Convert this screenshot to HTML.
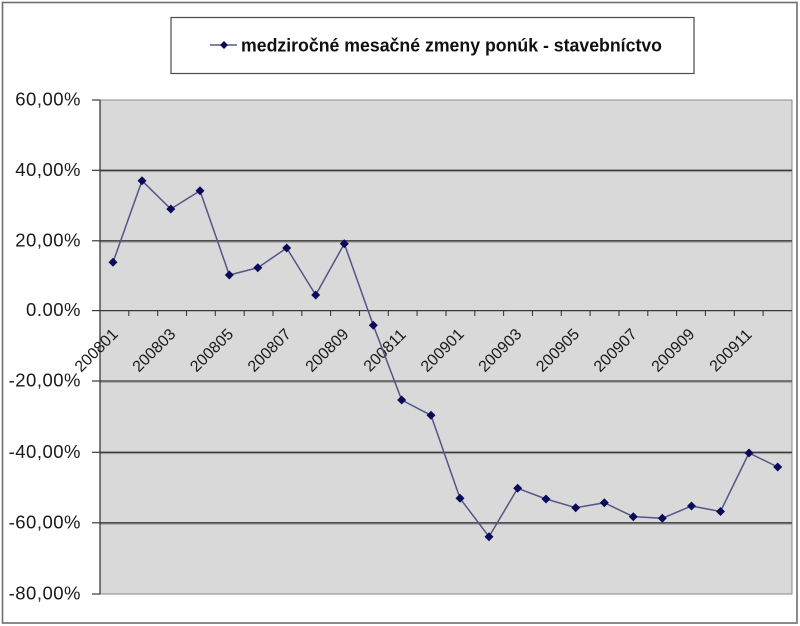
<!DOCTYPE html>
<html>
<head>
<meta charset="utf-8">
<style>
  html, body { margin: 0; padding: 0; background: #ffffff; }
  svg { display: block; }
  text { font-family: "Liberation Sans", Arial, sans-serif; }
</style>
</head>
<body>
<svg width="800" height="626" viewBox="0 0 800 626" xmlns="http://www.w3.org/2000/svg">
  <rect x="0" y="0" width="800" height="626" fill="#ffffff"/>
  <rect x="2.5" y="2.5" width="794.5" height="620.5" fill="#ffffff" stroke="#6e6e6e" stroke-width="1.6"/>

  <!-- legend -->
  <rect x="171" y="17.5" width="523" height="56" fill="#ffffff" stroke="#4a4a4a" stroke-width="1.2"/>
  <line x1="210" y1="45" x2="237" y2="45" stroke="#5a5a8c" stroke-width="1.5"/>
  <polygon points="224,41 228,45 224,49 220,45" fill="#0a0a5a"/>
  <text x="241" y="51.5" font-size="18" font-weight="bold" fill="#111" textLength="421" lengthAdjust="spacingAndGlyphs">medziročné mesačné zmeny ponúk - stavebníctvo</text>

  <!-- plot area -->
  <rect x="100" y="100" width="692" height="494" fill="#d9d9d9" stroke="#8a8a8a" stroke-width="1"/>

  <g stroke="#3a3a3a" stroke-width="1.3">
    <line x1="100" y1="170.3" x2="792" y2="170.3"/>
    <line x1="100" y1="240.8" x2="792" y2="240.8"/>
    <line x1="100" y1="381.0" x2="792" y2="381.0"/>
    <line x1="100" y1="452.3" x2="792" y2="452.3"/>
    <line x1="100" y1="522.8" x2="792" y2="522.8"/>
  </g>
  <g stroke="#9a9a9a" stroke-width="1">
    <line x1="100" y1="171.6" x2="792" y2="171.6"/>
    <line x1="100" y1="242.1" x2="792" y2="242.1"/>
    <line x1="100" y1="382.3" x2="792" y2="382.3"/>
    <line x1="100" y1="453.6" x2="792" y2="453.6"/>
    <line x1="100" y1="524.1" x2="792" y2="524.1"/>
  </g>
  <line x1="100" y1="100" x2="792" y2="100" stroke="#8a8a8a" stroke-width="1"/>
  <line x1="100" y1="594" x2="792" y2="594" stroke="#8a8a8a" stroke-width="1"/>

  <!-- y axis -->
  <line x1="100" y1="100" x2="100" y2="594" stroke="#3a3a3a" stroke-width="1.3"/>
  <g stroke="#3a3a3a" stroke-width="1.2">
    <line x1="92" y1="100" x2="100" y2="100"/>
    <line x1="92" y1="170.3" x2="100" y2="170.3"/>
    <line x1="92" y1="240.8" x2="100" y2="240.8"/>
    <line x1="92" y1="310.6" x2="100" y2="310.6"/>
    <line x1="92" y1="381.0" x2="100" y2="381.0"/>
    <line x1="92" y1="452.3" x2="100" y2="452.3"/>
    <line x1="92" y1="522.8" x2="100" y2="522.8"/>
    <line x1="92" y1="594" x2="100" y2="594"/>
  </g>

  <!-- x axis at 0 -->
  <line x1="100" y1="310.6" x2="792" y2="310.6" stroke="#3a3a3a" stroke-width="1.3"/>
  <g stroke="#3a3a3a" stroke-width="1.1">
    <line x1="128.8" y1="310.6" x2="128.8" y2="316"/>
    <line x1="157.7" y1="310.6" x2="157.7" y2="316"/>
    <line x1="186.5" y1="310.6" x2="186.5" y2="316"/>
    <line x1="215.3" y1="310.6" x2="215.3" y2="316"/>
    <line x1="244.2" y1="310.6" x2="244.2" y2="316"/>
    <line x1="273.0" y1="310.6" x2="273.0" y2="316"/>
    <line x1="301.8" y1="310.6" x2="301.8" y2="316"/>
    <line x1="330.6" y1="310.6" x2="330.6" y2="316"/>
    <line x1="359.5" y1="310.6" x2="359.5" y2="316"/>
    <line x1="388.3" y1="310.6" x2="388.3" y2="316"/>
    <line x1="417.1" y1="310.6" x2="417.1" y2="316"/>
    <line x1="446.0" y1="310.6" x2="446.0" y2="316"/>
    <line x1="474.8" y1="310.6" x2="474.8" y2="316"/>
    <line x1="503.6" y1="310.6" x2="503.6" y2="316"/>
    <line x1="532.5" y1="310.6" x2="532.5" y2="316"/>
    <line x1="561.3" y1="310.6" x2="561.3" y2="316"/>
    <line x1="590.1" y1="310.6" x2="590.1" y2="316"/>
    <line x1="619.0" y1="310.6" x2="619.0" y2="316"/>
    <line x1="647.8" y1="310.6" x2="647.8" y2="316"/>
    <line x1="676.6" y1="310.6" x2="676.6" y2="316"/>
    <line x1="705.4" y1="310.6" x2="705.4" y2="316"/>
    <line x1="734.3" y1="310.6" x2="734.3" y2="316"/>
    <line x1="763.1" y1="310.6" x2="763.1" y2="316"/>
  </g>

  <!-- y labels -->
  <g font-size="18.5" fill="#1a1a1a" text-anchor="end" letter-spacing="0.5">
    <text x="81" y="105.5">60,00%</text>
    <text x="81" y="175.8">40,00%</text>
    <text x="81" y="246.3">20,00%</text>
    <text x="81" y="316.1">0.00%</text>
    <text x="81" y="386.5">-20,00%</text>
    <text x="81" y="457.8">-40,00%</text>
    <text x="81" y="528.3">-60,00%</text>
    <text x="81" y="599.5">-80,00%</text>
  </g>

  <!-- x labels -->
  <g font-size="16" fill="#1a1a1a" text-anchor="middle">
    <text transform="translate(100,354) rotate(-45)">200801</text>
    <text transform="translate(157.7,354) rotate(-45)">200803</text>
    <text transform="translate(215.4,354) rotate(-45)">200805</text>
    <text transform="translate(273,354) rotate(-45)">200807</text>
    <text transform="translate(330.7,354) rotate(-45)">200809</text>
    <text transform="translate(388.4,354) rotate(-45)">200811</text>
    <text transform="translate(446,354) rotate(-45)">200901</text>
    <text transform="translate(503.7,354) rotate(-45)">200903</text>
    <text transform="translate(561.4,354) rotate(-45)">200905</text>
    <text transform="translate(619,354) rotate(-45)">200907</text>
    <text transform="translate(676.7,354) rotate(-45)">200909</text>
    <text transform="translate(734.3,354) rotate(-45)">200911</text>
  </g>

  <!-- series line -->
  <polyline fill="none" stroke="#555585" stroke-width="1.5" stroke-linejoin="round"
    points="113,262.3 142,180.7 170.8,209 200,190.7 229.3,275 257.8,267.7 286.7,248 315.7,295 344.3,243.7 373.3,325.3 401.7,400 431,415.3 460,498.3 489,536.7 517.7,488.3 546,499 575.7,507.7 604.3,502.7 633.3,516.7 662.3,518.3 691.5,506 720.5,511.5 749,453 777.7,467"/>

  <!-- markers -->
  <g fill="#0a0a5a">
    <polygon points="113,257.8 117.5,262.3 113,266.8 108.5,262.3"/>
    <polygon points="142,176.2 146.5,180.7 142,185.2 137.5,180.7"/>
    <polygon points="170.8,204.5 175.3,209 170.8,213.5 166.3,209"/>
    <polygon points="200,186.2 204.5,190.7 200,195.2 195.5,190.7"/>
    <polygon points="229.3,270.5 233.8,275 229.3,279.5 224.8,275"/>
    <polygon points="257.8,263.2 262.3,267.7 257.8,272.2 253.3,267.7"/>
    <polygon points="286.7,243.5 291.2,248 286.7,252.5 282.2,248"/>
    <polygon points="315.7,290.5 320.2,295 315.7,299.5 311.2,295"/>
    <polygon points="344.3,239.2 348.8,243.7 344.3,248.2 339.8,243.7"/>
    <polygon points="373.3,320.8 377.8,325.3 373.3,329.8 368.8,325.3"/>
    <polygon points="401.7,395.5 406.2,400 401.7,404.5 397.2,400"/>
    <polygon points="431,410.8 435.5,415.3 431,419.8 426.5,415.3"/>
    <polygon points="460,493.8 464.5,498.3 460,502.8 455.5,498.3"/>
    <polygon points="489,532.2 493.5,536.7 489,541.2 484.5,536.7"/>
    <polygon points="517.7,483.8 522.2,488.3 517.7,492.8 513.2,488.3"/>
    <polygon points="546,494.5 550.5,499 546,503.5 541.5,499"/>
    <polygon points="575.7,503.2 580.2,507.7 575.7,512.2 571.2,507.7"/>
    <polygon points="604.3,498.2 608.8,502.7 604.3,507.2 599.8,502.7"/>
    <polygon points="633.3,512.2 637.8,516.7 633.3,521.2 628.8,516.7"/>
    <polygon points="662.3,513.8 666.8,518.3 662.3,522.8 657.8,518.3"/>
    <polygon points="691.5,501.5 696,506 691.5,510.5 687,506"/>
    <polygon points="720.5,507 725,511.5 720.5,516 716,511.5"/>
    <polygon points="749,448.5 753.5,453 749,457.5 744.5,453"/>
    <polygon points="777.7,462.5 782.2,467 777.7,471.5 773.2,467"/>
  </g>
</svg>
</body>
</html>
